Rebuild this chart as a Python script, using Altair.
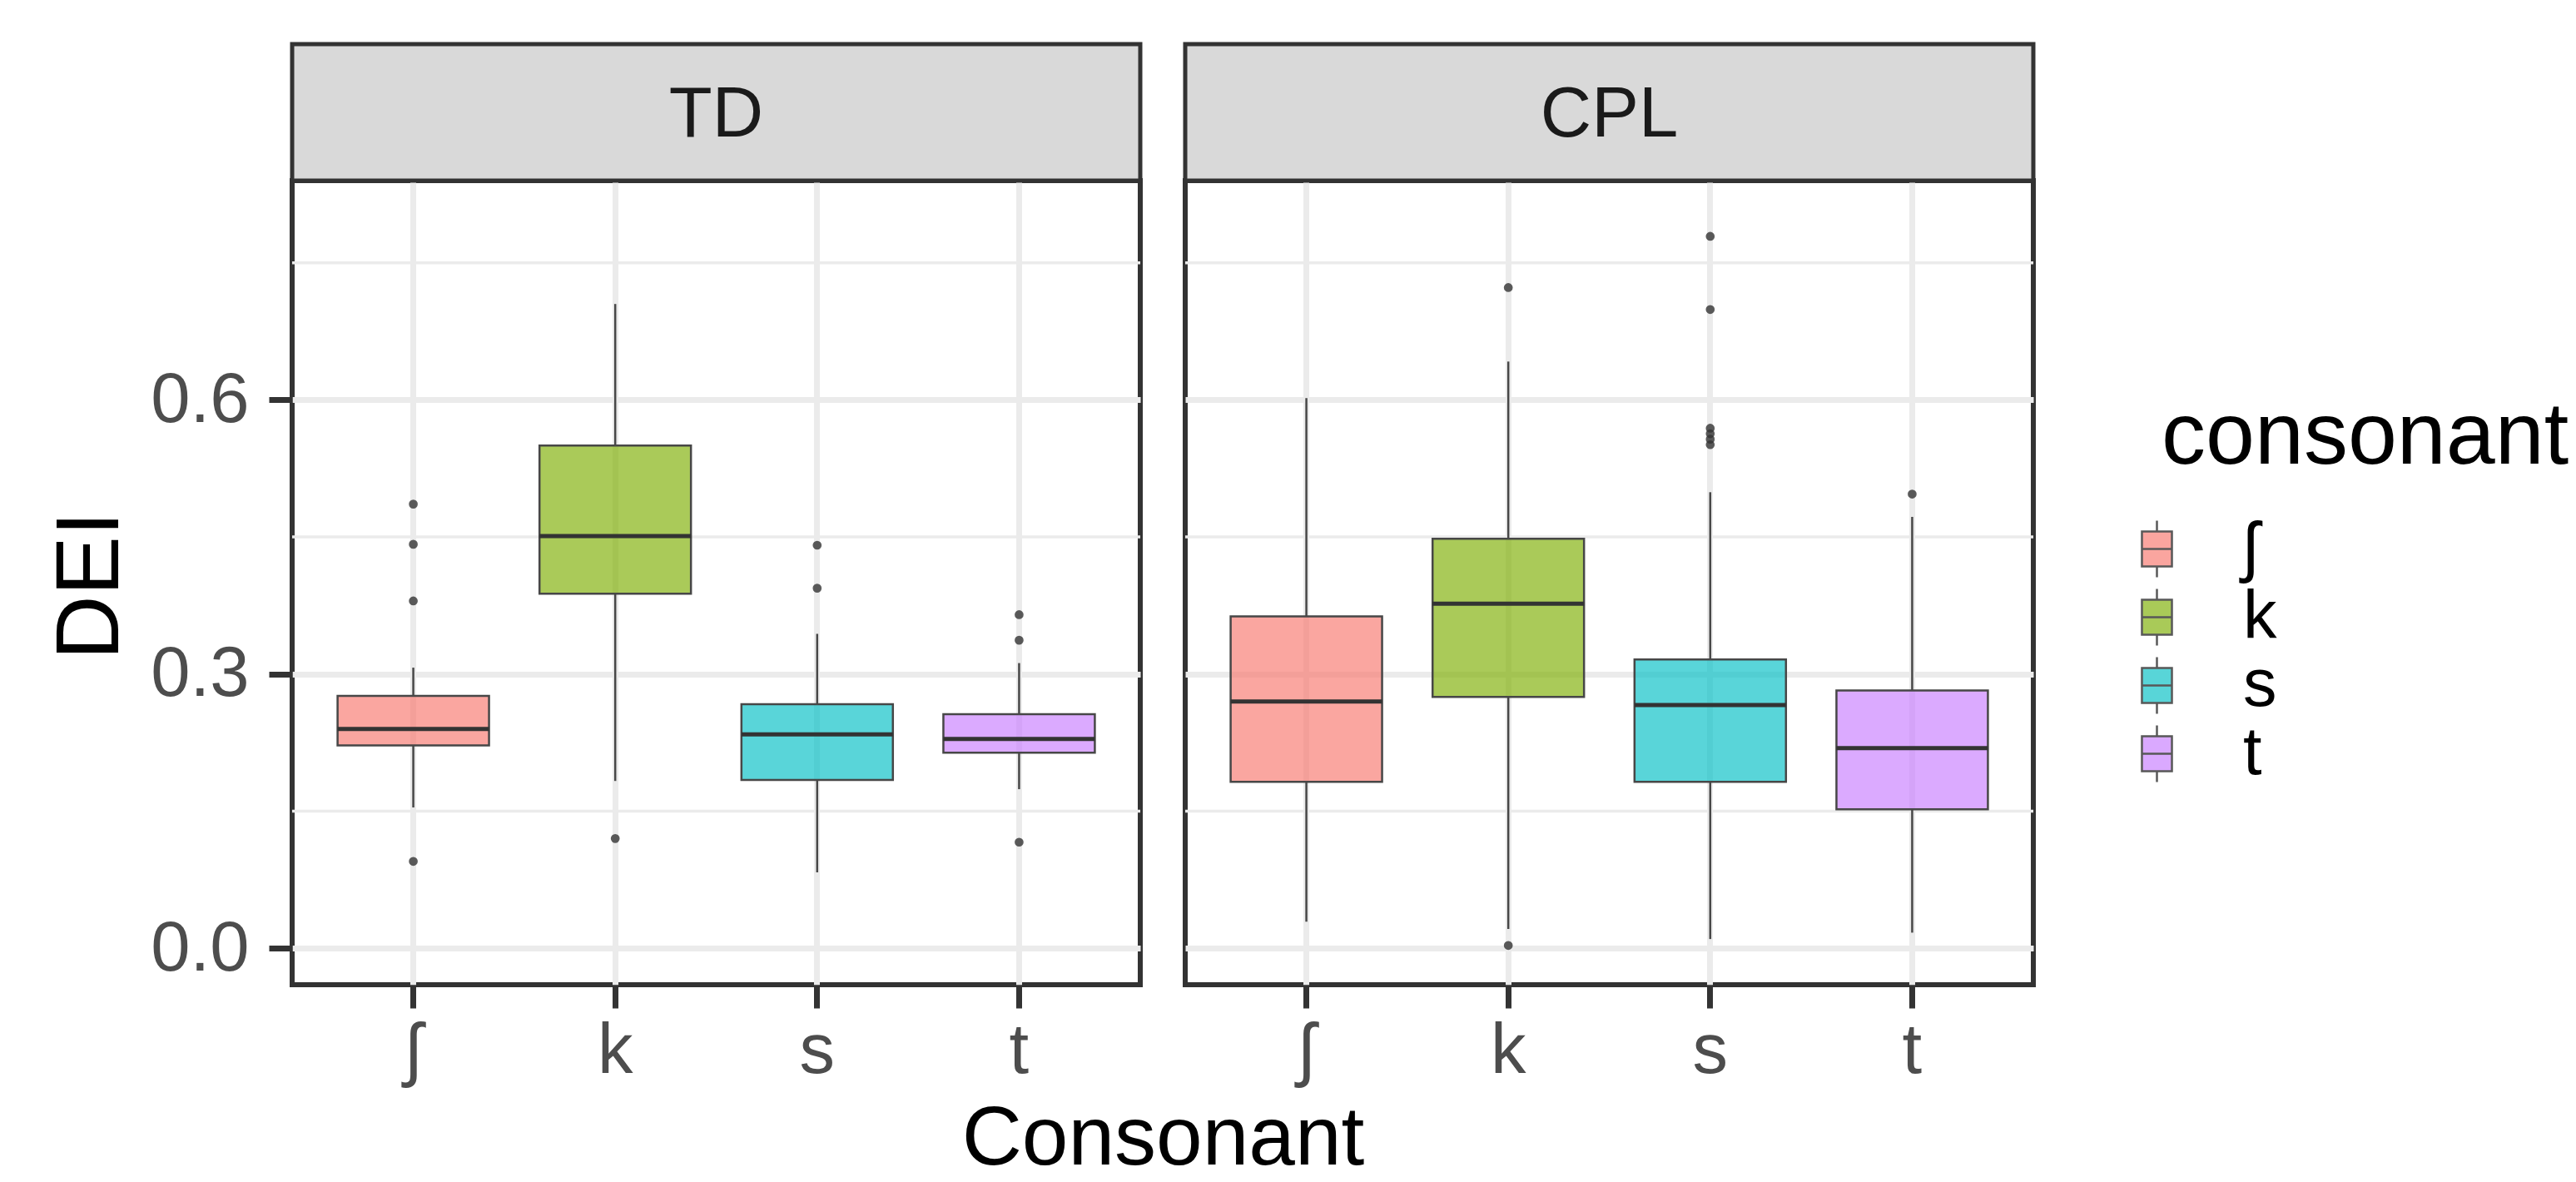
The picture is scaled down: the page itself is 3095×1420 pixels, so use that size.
import altair as alt
import pandas as pd

FONT = "Liberation Sans"

# ---------------- data ----------------
groups = ["TD", "CPL"]
consonants = ["ʃ", "k", "s", "t"]
colors = ["#F8766D", "#7CAE00", "#00BFC4", "#C77CFF"]

td_lower = [0.154, 0.183, 0.083, 0.174]
td_q1 = [0.222, 0.388, 0.184, 0.214]
td_median = [0.240, 0.451, 0.234, 0.229]
td_q3 = [0.276, 0.550, 0.267, 0.256]
td_upper = [0.307, 0.705, 0.344, 0.312]

cpl_lower = [0.029, 0.021, 0.010, 0.017]
cpl_q1 = [0.182, 0.275, 0.182, 0.152]
cpl_median = [0.270, 0.377, 0.266, 0.219]
cpl_q3 = [0.363, 0.448, 0.316, 0.282]
cpl_upper = [0.602, 0.642, 0.499, 0.472]

td_outliers = {"ʃ": [0.486, 0.442, 0.380, 0.095], "k": [0.120],
               "s": [0.441, 0.394], "t": [0.365, 0.337, 0.116]}
cpl_outliers = {"ʃ": [], "k": [0.723, 0.003],
                "s": [0.779, 0.699, 0.569, 0.563, 0.557, 0.551], "t": [0.497]}

y_breaks = [0.0, 0.3, 0.6]
y_minor = [0.15, 0.45, 0.75]
y_limits = [-0.04, 0.84]

# ---------------- tables ----------------
stats = {
    "TD": (td_lower, td_q1, td_median, td_q3, td_upper, td_outliers),
    "CPL": (cpl_lower, cpl_q1, cpl_median, cpl_q3, cpl_upper, cpl_outliers),
}
box_rows, out_rows = [], []
for g in groups:
    lo, a, m, b, hi, outs = stats[g]
    for i, c in enumerate(consonants):
        box_rows.append(dict(group=g, consonant=c, lower=lo[i], q1=a[i],
                             median=m[i], q3=b[i], upper=hi[i]))
        for v in outs[c]:
            out_rows.append(dict(group=g, consonant=c, value=v))
box_df = pd.DataFrame(box_rows)
out_df = pd.DataFrame(out_rows)
minor_df = pd.DataFrame({"v": y_minor})

# ---------------- layout ----------------
W, H = 1019, 966
STRIP = 164
BAND = 0.75 * W / 4.2

KEY_PATH = ("M-0.53,-0.62H0.53V0.62H-0.53Z M-0.53,0H0.53 "
            "M0,-0.62V-1 M0,0.62V1")

legend = alt.Legend(
    title="consonant", orient="none", legendX=2246, legendY=256,
    symbolType=KEY_PATH, symbolSize=4624, symbolStrokeColor="#000000",
    symbolStrokeWidth=2.5, symbolOffset=-46, symbolOpacity=0.65,
    labelFont=FONT, labelFontSize=81, labelColor="#000000", labelOffset=63,
    titleFont=FONT, titleFontSize=106, titleFontWeight="normal",
    titleColor="#000000", titlePadding=40, titleLimit=2000,
    rowPadding=0, padding=0,
)


def panel(g, first):
    bd = box_df[box_df.group == g]
    od = out_df[out_df.group == g]
    xs = alt.Scale(domain=consonants, paddingInner=0.25, paddingOuter=0.225)
    ys = alt.Scale(domain=y_limits, nice=False, zero=False)

    common_x = dict(grid=True, gridColor="#EBEBEB", gridWidth=7, bandPosition=0.5,
                    tickColor="#333333", tickWidth=7, tickSize=28, domain=False,
                    labelFont=FONT, labelFontSize=85, labelColor="#4D4D4D",
                    labelPadding=10, labelAngle=0)
    if first:
        xaxis = alt.Axis(title="Consonant", titleFont=FONT, titleFontSize=100,
                         titleFontWeight="normal", titleColor="#000000",
                         titleX=1046, titleY=215, titleBaseline="alphabetic",
                         titleAlign="center", **common_x)
        yaxis = alt.Axis(values=y_breaks, format=".1f", grid=True,
                         gridColor="#EBEBEB", gridWidth=7, tickColor="#333333",
                         tickWidth=7, tickSize=28, domain=False,
                         labelFont=FONT, labelFontSize=85, labelColor="#4D4D4D",
                         labelPadding=24, title="DEI", titleFont=FONT,
                         titleFontSize=107, titleFontWeight="normal",
                         titleColor="#000000", titleX=-210, titleY=486,
                         titleBaseline="alphabetic", titleAngle=270)
    else:
        xaxis = alt.Axis(title=None, **common_x)
        yaxis = alt.Axis(values=y_breaks, grid=True, gridColor="#EBEBEB",
                         gridWidth=7, ticks=False, labels=False, domain=False,
                         title=None)

    X = alt.X("consonant:N", scale=xs, axis=xaxis, sort=consonants)

    minor = alt.Chart(minor_df).mark_rule(color="#EBEBEB", strokeWidth=3.5).encode(
        y=alt.Y("v:Q", scale=ys, axis=yaxis))

    strip_df = pd.DataFrame({"group": [g]})
    strip = alt.Chart(strip_df).mark_rect(
        fill="#D9D9D9", stroke="#333333", strokeWidth=5).encode(
        x=alt.value(0), x2=alt.value(W), y=alt.value(-STRIP), y2=alt.value(0))
    strip_txt = alt.Chart(strip_df).mark_text(
        font=FONT, fontSize=85, color="#1A1A1A", baseline="middle",
        align="center").encode(
        x=alt.value(W / 2), y=alt.value(-STRIP / 2 + 3), text="group:N")

    base = alt.Chart(bd)
    wl = base.mark_rule(color="#474747", strokeWidth=2.5).encode(
        x=X, y=alt.Y("lower:Q", scale=ys, axis=yaxis), y2="q1:Q")
    wu = base.mark_rule(color="#474747", strokeWidth=2.5).encode(
        x=X, y=alt.Y("q3:Q", scale=ys, axis=yaxis), y2="upper:Q")
    box = base.mark_bar(fillOpacity=0.65, stroke="#474747", strokeWidth=2.5).encode(
        x=X, y=alt.Y("q1:Q", scale=ys, axis=yaxis), y2="q3:Q",
        fill=alt.Fill("consonant:N",
                      scale=alt.Scale(domain=consonants, range=colors),
                      legend=legend, sort=consonants))
    med = base.mark_tick(color="#333333", thickness=5, size=BAND, opacity=1).encode(
        x=X, y=alt.Y("median:Q", scale=ys, axis=yaxis))
    pts = alt.Chart(od).mark_circle(size=115, color="#333333", opacity=0.8).encode(
        x=X, y=alt.Y("value:Q", scale=ys, axis=yaxis))

    return alt.layer(minor, wl, wu, box, med, pts, strip, strip_txt).properties(
        width=W, height=H)


chart = alt.hconcat(panel("TD", True), panel("CPL", False), spacing=54,
                    bounds="flush").properties(
    padding={"left": 44, "top": 39, "right": 0, "bottom": 0},
    background="#FFFFFF",
).configure_view(stroke="#333333", strokeWidth=6)

chart.save("out.html", embed_options={"renderer": "svg", "actions": False})
